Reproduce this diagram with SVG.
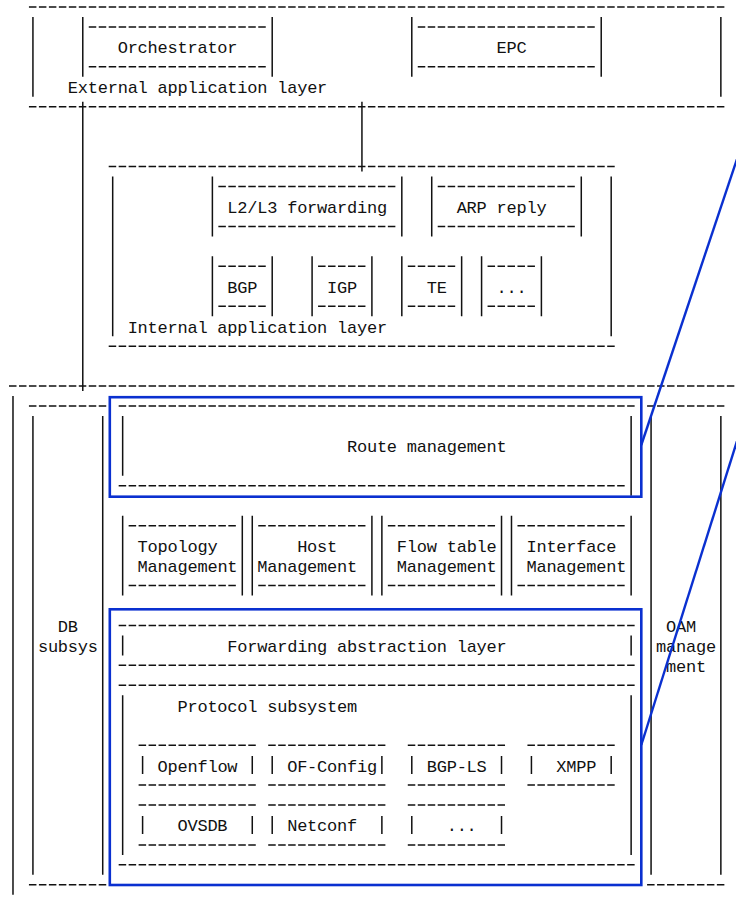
<svg xmlns="http://www.w3.org/2000/svg" width="736" height="901" viewBox="0 0 736 901">
  <style>
    .d { fill: none; stroke: #111; stroke-width: 1.5; stroke-dasharray: 7.5 2.47; }
    .v { fill: none; stroke: #111; stroke-width: 1.5; }
    .t { font-family: "Liberation Mono", "DejaVu Sans Mono", monospace; font-size: 17px; letter-spacing: -0.23px; fill: #111; }
    .hl { fill: none; stroke: #0a30d0; stroke-width: 2.6; }
    .co { fill: none; stroke: #0a30d0; stroke-width: 2.4; }
  </style>
  <rect width="736" height="901" fill="#fff"/>

  <!-- External application layer frame -->
  <g id="external-layer">
    <path class="d" d="M28.94 7 H724.37"/>
    <path class="d" d="M28.94 106.75 H724.37"/>
    <path class="v" d="M32.93 16.95 V96.8 M720.86 16.95 V96.8"/>
    <text class="t" x="67.82" y="93.3">External application layer</text>
  </g>
  <g id="orchestrator">
    <path class="v" d="M82.78 16.95 V76.85 M272.21 16.95 V76.85"/>
    <path class="d" d="M88.76 26.95 H265.75 M88.76 66.85 H265.75"/>
    <text class="t" x="117.67" y="53.4">Orchestrator</text>
  </g>
  <g id="epc">
    <path class="v" d="M411.79 16.95 V76.85 M601.22 16.95 V76.85"/>
    <path class="d" d="M417.77 26.95 H594.76 M417.77 66.85 H594.76"/>
    <text class="t" x="496.53" y="53.4">EPC</text>
  </g>

  <!-- Internal application layer frame -->
  <g id="internal-layer">
    <path class="d" d="M108.7 166.6 H614.7 M108.7 346.15 H614.7"/>
    <path class="v" d="M112.69 176.55 V336.2 M611.19 176.55 V336.2"/>
    <text class="t" x="127.64" y="332.7">Internal application layer</text>
  </g>
  <g id="l2l3-forwarding">
    <path class="v" d="M212.39 176.55 V236.45 M401.82 176.55 V236.45"/>
    <path class="d" d="M218.37 186.55 H395.36 M218.37 226.45 H395.36"/>
    <text class="t" x="227.34" y="213">L2/L3 forwarding</text>
  </g>
  <g id="arp-reply">
    <path class="v" d="M431.73 176.55 V236.45 M581.28 176.55 V236.45"/>
    <path class="d" d="M437.71 186.55 H574.82 M437.71 226.45 H574.82"/>
    <text class="t" x="456.65" y="213">ARP reply</text>
  </g>
  <g id="bgp">
    <path class="v" d="M212.39 256.35 V316.25 M272.21 256.35 V316.25"/>
    <path class="d" d="M218.37 266.35 H265.75 M218.37 306.25 H265.75"/>
    <text class="t" x="227.34" y="292.8">BGP</text>
  </g>
  <g id="igp">
    <path class="v" d="M312.09 256.35 V316.25 M371.91 256.35 V316.25"/>
    <path class="d" d="M318.07 266.35 H365.45 M318.07 306.25 H365.45"/>
    <text class="t" x="327.04" y="292.8">IGP</text>
  </g>
  <g id="te">
    <path class="v" d="M401.82 256.35 V316.25 M461.64 256.35 V316.25"/>
    <path class="d" d="M407.8 266.35 H455.18 M407.8 306.25 H455.18"/>
    <text class="t" x="426.74" y="292.8">TE</text>
  </g>
  <g id="internal-more">
    <path class="v" d="M481.58 256.35 V316.25 M541.4 256.35 V316.25"/>
    <path class="d" d="M487.56 266.35 H534.94 M487.56 306.25 H534.94"/>
    <text class="t" x="496.53" y="292.8">...</text>
  </g>

  <!-- Controller core frame -->
  <g id="core-frame">
    <path class="d" d="M9 386.05 H740"/>
    <path class="v" d="M12.99 396 V894.8"/>
  </g>
  <g id="db-subsys">
    <path class="d" d="M28.94 406 H106.23 M28.94 884.8 H106.23"/>
    <path class="v" d="M32.93 415.95 V874.85 M102.72 415.95 V874.85"/>
    <text class="t" x="57.85" y="631.95">DB</text>
    <text class="t" x="37.91" y="651.9">subsys</text>
  </g>
  <g id="oam-management">
    <path class="d" d="M647.08 406 H724.37 M647.08 884.8 H724.37"/>
    <path class="v" d="M651.07 415.95 V874.85 M720.86 415.95 V874.85"/>
    <text class="t" x="666.02" y="631.95">OAM</text>
    <text class="t" x="656.05" y="651.9">manage</text>
    <text class="t" x="666.02" y="671.85">ment</text>
  </g>
  <g id="route-management">
    <path class="d" d="M118.67 406 H634.64 M118.67 485.8 H624.67"/>
    <path class="v" d="M122.66 415.95 V475.85 M631.13 415.95 V495.8"/>
    <text class="t" x="346.98" y="452.4">Route management</text>
  </g>
  <g id="topology-management">
    <path class="v" d="M122.66 515.7 V595.55 M242.3 515.7 V595.55"/>
    <path class="d" d="M128.64 525.7 H235.84 M128.64 585.55 H235.84"/>
    <text class="t" x="137.61" y="552.15">Topology</text>
    <text class="t" x="137.61" y="572.1">Management</text>
  </g>
  <g id="host-management">
    <path class="v" d="M252.27 515.7 V595.55 M371.91 515.7 V595.55"/>
    <path class="d" d="M258.25 525.7 H365.45 M258.25 585.55 H365.45"/>
    <text class="t" x="297.13" y="552.15">Host</text>
    <text class="t" x="257.25" y="572.1">Management</text>
  </g>
  <g id="flow-table-management">
    <path class="v" d="M381.88 515.7 V595.55 M501.52 515.7 V595.55"/>
    <path class="d" d="M387.86 525.7 H495.06 M387.86 585.55 H495.06"/>
    <text class="t" x="396.83" y="552.15">Flow table</text>
    <text class="t" x="396.83" y="572.1">Management</text>
  </g>
  <g id="interface-management">
    <path class="v" d="M511.49 515.7 V595.55 M631.13 515.7 V595.55"/>
    <path class="d" d="M517.47 525.7 H624.67 M517.47 585.55 H624.67"/>
    <text class="t" x="526.44" y="552.15">Interface</text>
    <text class="t" x="526.44" y="572.1">Management</text>
  </g>
  <g id="forwarding-abstraction-layer">
    <path class="d" d="M118.67 625.45 H634.64 M118.67 665.35 H634.64"/>
    <path class="v" d="M122.66 635.4 V655.4 M631.13 635.4 V655.4"/>
    <text class="t" x="227.34" y="651.9">Forwarding abstraction layer</text>
  </g>
  <g id="protocol-subsystem">
    <path class="d" d="M118.67 685.3 H634.64 M118.67 864.85 H634.64"/>
    <path class="v" d="M122.66 695.25 V854.9 M631.13 695.25 V854.9"/>
    <text class="t" x="177.49" y="711.75">Protocol subsystem</text>
  </g>
  <g id="openflow">
    <path class="d" d="M138.61 745.15 H255.78 M138.61 785.05 H255.78"/>
    <path class="v" d="M142.6 756.1 V774.1 M252.27 756.1 V774.1"/>
    <text class="t" x="157.55" y="771.6">Openflow</text>
  </g>
  <g id="of-config">
    <path class="d" d="M268.22 745.15 H385.39 M268.22 785.05 H385.39"/>
    <path class="v" d="M272.21 756.1 V774.1 M381.88 756.1 V774.1"/>
    <text class="t" x="287.16" y="771.6">OF-Config</text>
  </g>
  <g id="bgp-ls">
    <path class="d" d="M407.8 745.15 H505.03 M407.8 785.05 H505.03"/>
    <path class="v" d="M411.79 756.1 V774.1 M501.52 756.1 V774.1"/>
    <text class="t" x="426.74" y="771.6">BGP-LS</text>
  </g>
  <g id="xmpp">
    <path class="d" d="M527.44 745.15 H614.7 M527.44 785.05 H614.7"/>
    <path class="v" d="M531.43 756.1 V774.1 M611.19 756.1 V774.1"/>
    <text class="t" x="556.35" y="771.6">XMPP</text>
  </g>
  <g id="ovsdb">
    <path class="d" d="M138.61 805 H255.78 M138.61 844.9 H255.78"/>
    <path class="v" d="M142.6 815.95 V833.95 M252.27 815.95 V833.95"/>
    <text class="t" x="177.49" y="831.45">OVSDB</text>
  </g>
  <g id="netconf">
    <path class="d" d="M268.22 805 H385.39 M268.22 844.9 H385.39"/>
    <path class="v" d="M272.21 815.95 V833.95 M381.88 815.95 V833.95"/>
    <text class="t" x="287.16" y="831.45">Netconf</text>
  </g>
  <g id="protocol-more">
    <path class="d" d="M407.8 805 H505.03 M407.8 844.9 H505.03"/>
    <path class="v" d="M411.79 815.95 V833.95 M501.52 815.95 V833.95"/>
    <text class="t" x="446.68" y="831.45">...</text>
  </g>

  <!-- Links between the layers (the "+" joints sit on the dashed frame lines) -->
  <g id="connectors">
    <path class="v" d="M82.78 101.75 V391.05"/>
    <path class="v" d="M361.94 101.75 V171.6"/>
  </g>

  <!-- Blue highlight frames and callout lines -->
  <g id="highlights">
    <rect class="hl" x="109.8" y="397.2" width="531.5" height="99.5"/>
    <rect class="hl" x="109.8" y="609.3" width="531.5" height="275.7"/>
    <path class="co" d="M740 150 L641.3 445"/>
    <path class="co" d="M740.5 430 L641.3 745"/>
  </g>
</svg>
